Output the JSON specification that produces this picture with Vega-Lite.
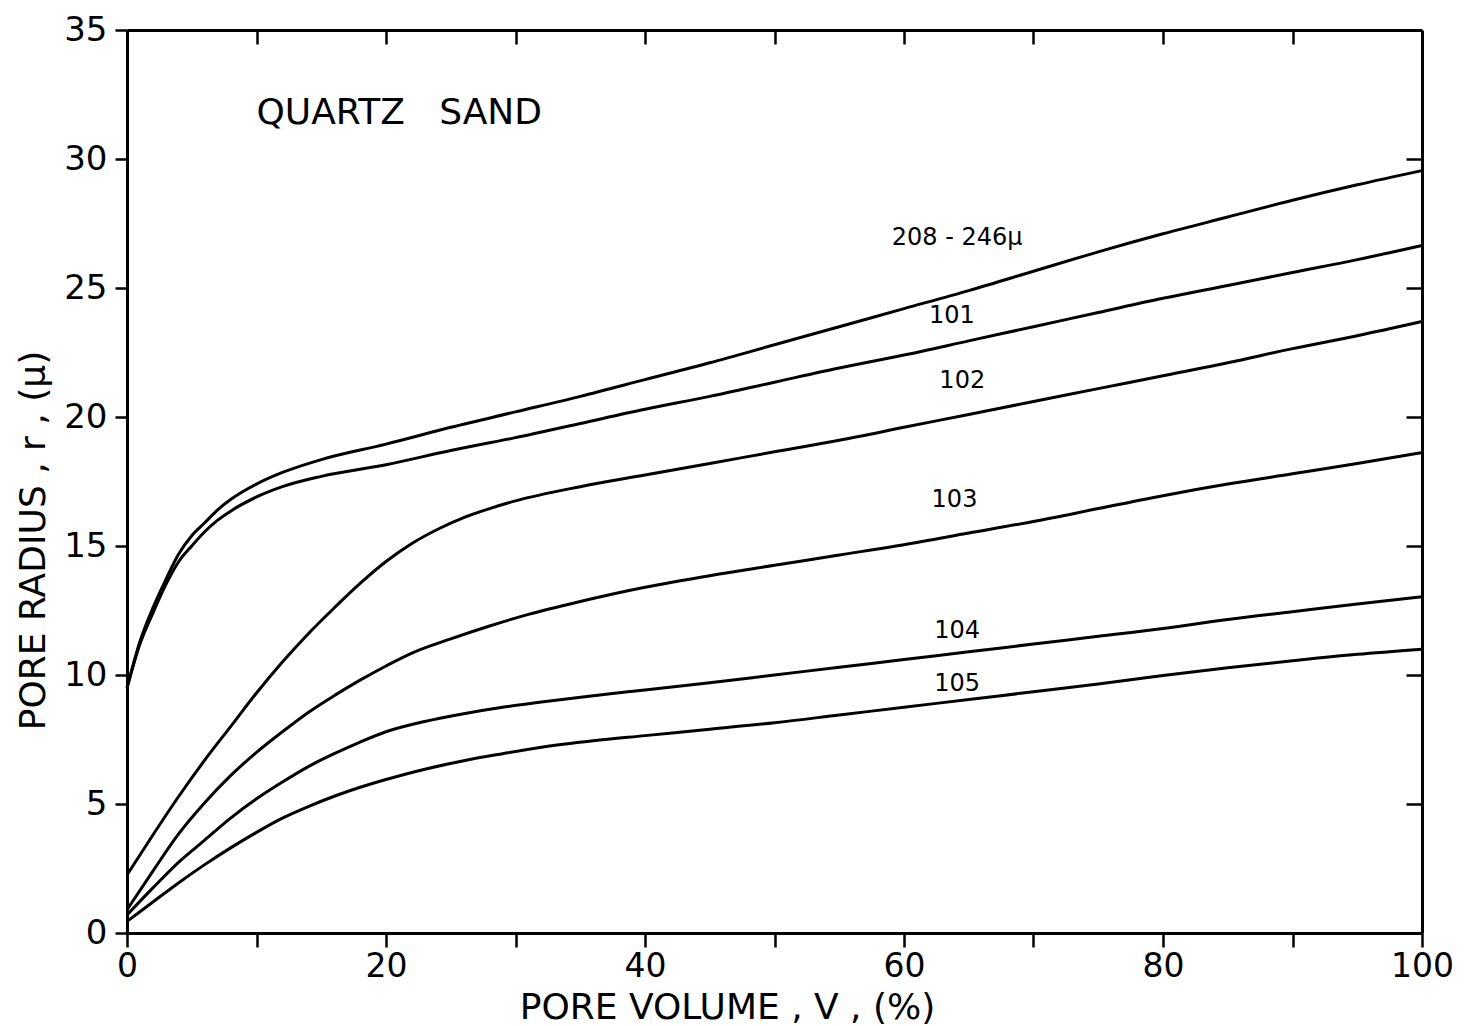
{
  "$schema": "https://vega.github.io/schema/vega-lite/v6.json",
  "width": 1295,
  "height": 903,
  "autosize": {"type": "none"},
  "padding": {"left": 127, "top": 30, "right": 45, "bottom": 93},
  "background": "white",
  "config": {
    "view": {"stroke": null},
    "font": "DejaVu Sans",
    "axis": {
      "grid": false,
      "domainColor": "black",
      "domainWidth": 3,
      "tickColor": "black",
      "tickWidth": 2.5,
      "labelColor": "black",
      "labelFont": "DejaVu Sans",
      "labelFontSize": 34,
      "titleColor": "black",
      "titleFont": "DejaVu Sans",
      "titleFontSize": 36,
      "titleFontWeight": "normal"
    }
  },
  "datasets": {
    "curves": [
      {"s": "208-246", "v": 0, "r": 9.5}, {"s": "208-246", "v": 1, "r": 11.3}, {"s": "208-246", "v": 2, "r": 12.6}, {"s": "208-246", "v": 3, "r": 13.7}, {"s": "208-246", "v": 4, "r": 14.7}, {"s": "208-246", "v": 5, "r": 15.4}, {"s": "208-246", "v": 6, "r": 15.9}, {"s": "208-246", "v": 7, "r": 16.4}, {"s": "208-246", "v": 8, "r": 16.8}, {"s": "208-246", "v": 10, "r": 17.4}, {"s": "208-246", "v": 12, "r": 17.85}, {"s": "208-246", "v": 15, "r": 18.35}, {"s": "208-246", "v": 20, "r": 18.95}, {"s": "208-246", "v": 25, "r": 19.6}, {"s": "208-246", "v": 30, "r": 20.2}, {"s": "208-246", "v": 35, "r": 20.8}, {"s": "208-246", "v": 40, "r": 21.45}, {"s": "208-246", "v": 45, "r": 22.1}, {"s": "208-246", "v": 50, "r": 22.8}, {"s": "208-246", "v": 55, "r": 23.5}, {"s": "208-246", "v": 60, "r": 24.2}, {"s": "208-246", "v": 65, "r": 24.9}, {"s": "208-246", "v": 70, "r": 25.65}, {"s": "208-246", "v": 75, "r": 26.4}, {"s": "208-246", "v": 80, "r": 27.1}, {"s": "208-246", "v": 85, "r": 27.75}, {"s": "208-246", "v": 90, "r": 28.4}, {"s": "208-246", "v": 95, "r": 29.0}, {"s": "208-246", "v": 100, "r": 29.55},
      {"s": "101", "v": 0, "r": 9.5}, {"s": "101", "v": 1, "r": 11.2}, {"s": "101", "v": 2, "r": 12.4}, {"s": "101", "v": 3, "r": 13.5}, {"s": "101", "v": 4, "r": 14.4}, {"s": "101", "v": 5, "r": 15.0}, {"s": "101", "v": 6, "r": 15.55}, {"s": "101", "v": 7, "r": 16.0}, {"s": "101", "v": 8, "r": 16.35}, {"s": "101", "v": 10, "r": 16.9}, {"s": "101", "v": 12, "r": 17.3}, {"s": "101", "v": 15, "r": 17.7}, {"s": "101", "v": 20, "r": 18.15}, {"s": "101", "v": 25, "r": 18.7}, {"s": "101", "v": 30, "r": 19.2}, {"s": "101", "v": 35, "r": 19.75}, {"s": "101", "v": 40, "r": 20.3}, {"s": "101", "v": 45, "r": 20.8}, {"s": "101", "v": 50, "r": 21.35}, {"s": "101", "v": 55, "r": 21.9}, {"s": "101", "v": 60, "r": 22.4}, {"s": "101", "v": 65, "r": 22.95}, {"s": "101", "v": 70, "r": 23.5}, {"s": "101", "v": 75, "r": 24.05}, {"s": "101", "v": 80, "r": 24.6}, {"s": "101", "v": 85, "r": 25.1}, {"s": "101", "v": 90, "r": 25.6}, {"s": "101", "v": 95, "r": 26.1}, {"s": "101", "v": 100, "r": 26.65},
      {"s": "102", "v": 0, "r": 2.25}, {"s": "102", "v": 2, "r": 3.8}, {"s": "102", "v": 4, "r": 5.3}, {"s": "102", "v": 6, "r": 6.7}, {"s": "102", "v": 8, "r": 8.0}, {"s": "102", "v": 10, "r": 9.3}, {"s": "102", "v": 12, "r": 10.5}, {"s": "102", "v": 14, "r": 11.6}, {"s": "102", "v": 16, "r": 12.6}, {"s": "102", "v": 18, "r": 13.55}, {"s": "102", "v": 20, "r": 14.4}, {"s": "102", "v": 22, "r": 15.1}, {"s": "102", "v": 24, "r": 15.65}, {"s": "102", "v": 26, "r": 16.1}, {"s": "102", "v": 28, "r": 16.45}, {"s": "102", "v": 30, "r": 16.75}, {"s": "102", "v": 35, "r": 17.3}, {"s": "102", "v": 40, "r": 17.75}, {"s": "102", "v": 45, "r": 18.2}, {"s": "102", "v": 50, "r": 18.65}, {"s": "102", "v": 55, "r": 19.1}, {"s": "102", "v": 60, "r": 19.6}, {"s": "102", "v": 65, "r": 20.1}, {"s": "102", "v": 70, "r": 20.6}, {"s": "102", "v": 75, "r": 21.1}, {"s": "102", "v": 80, "r": 21.6}, {"s": "102", "v": 85, "r": 22.1}, {"s": "102", "v": 90, "r": 22.65}, {"s": "102", "v": 95, "r": 23.15}, {"s": "102", "v": 100, "r": 23.7},
      {"s": "103", "v": 0, "r": 0.9}, {"s": "103", "v": 2, "r": 2.4}, {"s": "103", "v": 4, "r": 3.85}, {"s": "103", "v": 6, "r": 5.05}, {"s": "103", "v": 8, "r": 6.1}, {"s": "103", "v": 10, "r": 7.0}, {"s": "103", "v": 12, "r": 7.8}, {"s": "103", "v": 14, "r": 8.55}, {"s": "103", "v": 16, "r": 9.2}, {"s": "103", "v": 18, "r": 9.8}, {"s": "103", "v": 20, "r": 10.35}, {"s": "103", "v": 22, "r": 10.85}, {"s": "103", "v": 25, "r": 11.4}, {"s": "103", "v": 28, "r": 11.9}, {"s": "103", "v": 31, "r": 12.35}, {"s": "103", "v": 35, "r": 12.85}, {"s": "103", "v": 40, "r": 13.4}, {"s": "103", "v": 45, "r": 13.85}, {"s": "103", "v": 50, "r": 14.25}, {"s": "103", "v": 55, "r": 14.65}, {"s": "103", "v": 60, "r": 15.05}, {"s": "103", "v": 65, "r": 15.5}, {"s": "103", "v": 70, "r": 15.95}, {"s": "103", "v": 75, "r": 16.45}, {"s": "103", "v": 80, "r": 16.95}, {"s": "103", "v": 85, "r": 17.4}, {"s": "103", "v": 90, "r": 17.8}, {"s": "103", "v": 95, "r": 18.2}, {"s": "103", "v": 100, "r": 18.62},
      {"s": "104", "v": 0, "r": 0.7}, {"s": "104", "v": 2, "r": 1.75}, {"s": "104", "v": 4, "r": 2.75}, {"s": "104", "v": 6, "r": 3.6}, {"s": "104", "v": 8, "r": 4.45}, {"s": "104", "v": 10, "r": 5.2}, {"s": "104", "v": 12, "r": 5.85}, {"s": "104", "v": 14, "r": 6.45}, {"s": "104", "v": 16, "r": 6.95}, {"s": "104", "v": 18, "r": 7.4}, {"s": "104", "v": 20, "r": 7.8}, {"s": "104", "v": 23, "r": 8.2}, {"s": "104", "v": 26, "r": 8.5}, {"s": "104", "v": 29, "r": 8.75}, {"s": "104", "v": 32, "r": 8.95}, {"s": "104", "v": 36, "r": 9.2}, {"s": "104", "v": 40, "r": 9.42}, {"s": "104", "v": 45, "r": 9.7}, {"s": "104", "v": 50, "r": 10.0}, {"s": "104", "v": 55, "r": 10.3}, {"s": "104", "v": 60, "r": 10.6}, {"s": "104", "v": 65, "r": 10.9}, {"s": "104", "v": 70, "r": 11.2}, {"s": "104", "v": 75, "r": 11.5}, {"s": "104", "v": 80, "r": 11.8}, {"s": "104", "v": 85, "r": 12.15}, {"s": "104", "v": 90, "r": 12.45}, {"s": "104", "v": 95, "r": 12.75}, {"s": "104", "v": 100, "r": 13.03},
      {"s": "105", "v": 0, "r": 0.45}, {"s": "105", "v": 2, "r": 1.2}, {"s": "105", "v": 4, "r": 1.95}, {"s": "105", "v": 6, "r": 2.65}, {"s": "105", "v": 8, "r": 3.3}, {"s": "105", "v": 10, "r": 3.9}, {"s": "105", "v": 12, "r": 4.45}, {"s": "105", "v": 14, "r": 4.9}, {"s": "105", "v": 16, "r": 5.3}, {"s": "105", "v": 18, "r": 5.65}, {"s": "105", "v": 20, "r": 5.95}, {"s": "105", "v": 23, "r": 6.35}, {"s": "105", "v": 26, "r": 6.68}, {"s": "105", "v": 29, "r": 6.95}, {"s": "105", "v": 32, "r": 7.2}, {"s": "105", "v": 36, "r": 7.45}, {"s": "105", "v": 40, "r": 7.65}, {"s": "105", "v": 45, "r": 7.9}, {"s": "105", "v": 50, "r": 8.15}, {"s": "105", "v": 55, "r": 8.45}, {"s": "105", "v": 60, "r": 8.75}, {"s": "105", "v": 65, "r": 9.05}, {"s": "105", "v": 70, "r": 9.35}, {"s": "105", "v": 75, "r": 9.65}, {"s": "105", "v": 80, "r": 9.98}, {"s": "105", "v": 85, "r": 10.28}, {"s": "105", "v": 90, "r": 10.55}, {"s": "105", "v": 95, "r": 10.8}, {"s": "105", "v": 100, "r": 11.0}
    ],
    "curveLabels": [
      {"v": 64.1, "r": 26.95, "label": "208 - 246μ"},
      {"v": 63.7, "r": 23.9, "label": "101"},
      {"v": 64.5, "r": 21.4, "label": "102"},
      {"v": 63.9, "r": 16.8, "label": "103"},
      {"v": 64.1, "r": 11.7, "label": "104"},
      {"v": 64.1, "r": 9.65, "label": "105"}
    ],
    "panelTitle": [
      {"v": 10.0, "r": 31.8, "label": "QUARTZ\u00a0\u00a0\u00a0SAND"}
    ]
  },
  "layer": [
    {
      "data": {"name": "curves"},
      "mark": {"type": "line", "interpolate": "monotone", "color": "black", "strokeWidth": 3},
      "encoding": {
        "x": {
          "field": "v", "type": "quantitative",
          "scale": {"domain": [0, 100], "nice": false},
          "axis": {
            "orient": "bottom",
            "values": [0, 10, 20, 30, 40, 50, 60, 70, 80, 90, 100],
            "labelExpr": "datum.value % 20 === 0 ? datum.label : ''",
            "tickSize": 14,
            "labelPadding": 3,
            "labelFontSize": 33,
            "labelFlush": false,
            "labelOverlap": false,
            "title": "PORE VOLUME , V , (%)",
            "titleX": 600,
            "titleY": 85,
            "titleBaseline": "alphabetic",
            "titleAlign": "center"
          }
        },
        "y": {
          "field": "r", "type": "quantitative",
          "scale": {"domain": [0, 35], "nice": false},
          "axis": {
            "orient": "left",
            "values": [0, 5, 10, 15, 20, 25, 30, 35],
            "tickSize": 12,
            "labelPadding": 8,
            "labelFlush": false,
            "labelOverlap": false,
            "title": "PORE RADIUS , r , (μ)",
            "titleAngle": -90,
            "titleX": -83,
            "titleY": 510,
            "titleBaseline": "alphabetic",
            "titleAlign": "center"
          }
        },
        "detail": {"field": "s", "type": "nominal"}
      }
    },
    {
      "data": {"name": "curveLabels"},
      "mark": {"type": "text", "font": "DejaVu Sans", "fontSize": 24, "color": "black", "align": "center", "baseline": "middle"},
      "encoding": {
        "x": {
          "field": "v", "type": "quantitative",
          "scale": {"domain": [0, 100], "nice": false},
          "axis": {
            "orient": "top",
            "values": [10, 20, 30, 40, 50, 60, 70, 80, 90],
            "tickSize": -14,
            "labels": false,
            "title": null
          }
        },
        "y": {
          "field": "r", "type": "quantitative",
          "scale": {"domain": [0, 35], "nice": false},
          "axis": {
            "orient": "right",
            "values": [5, 10, 15, 20, 25, 30],
            "tickSize": -16,
            "labels": false,
            "title": null
          }
        },
        "text": {"field": "label"}
      }
    },
    {
      "data": {"name": "panelTitle"},
      "mark": {"type": "text", "font": "DejaVu Sans", "fontSize": 36, "color": "black", "align": "left", "baseline": "middle"},
      "encoding": {
        "x": {"field": "v", "type": "quantitative", "axis": null},
        "y": {"field": "r", "type": "quantitative", "axis": null},
        "text": {"field": "label"}
      }
    }
  ],
  "resolve": {"axis": {"x": "independent", "y": "independent"}}
}
